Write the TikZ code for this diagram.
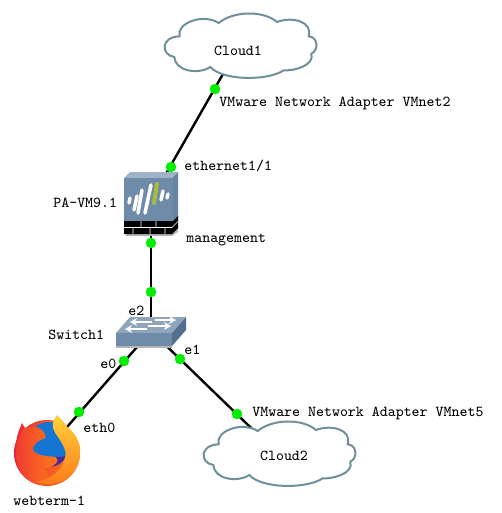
\documentclass[tikz,border=0pt]{standalone}
\usepackage{fontspec}
\usetikzlibrary{positioning, calc, arrows.meta}
\definecolor{myPort}{HTML}{00EE00}
\definecolor{myEdge}{HTML}{6F8F99}
\definecolor{myFront}{HTML}{6F8BAA}
\definecolor{myTop}{HTML}{9FB3C6}
\definecolor{mySide}{HTML}{52708E}
\definecolor{myShadow}{HTML}{B4B4B4}
\definecolor{myLeaf}{HTML}{A9BC3C}
\definecolor{foxBlue}{HTML}{1476D2}
\definecolor{foxPurple}{HTML}{4A2A9A}
\definecolor{foxRed}{HTML}{E8203C}
\definecolor{foxOrange}{HTML}{FF7A1A}
\definecolor{foxYellow}{HTML}{FFD23A}

\begin{document}
\begin{tikzpicture}[
  x=0.02cm, y=-0.02cm,
  link/.style={draw=black, line width=0.048cm},
  port/.style={circle, fill=myPort, minimum size=0.21cm, inner sep=0pt},
  lbl/.style={font=\ttfamily\fontsize{8.64}{10}\selectfont, inner sep=0pt, anchor=west, yshift=-0.03cm},
  swarrow/.style={white, line width=0.05cm, -{Stealth[length=0.14cm, width=0.16cm]}},
  cloudshape/.pic={
    \draw[draw=myEdge, fill=white, line width=0.04cm]
      (55.7,10) .. controls (70,-2) and (100,-3) .. (114,9)
      .. controls (130,3) and (150,9) .. (145.7,23.3)
      .. controls (155,24) and (156,37) .. (148.3,40.7)
      .. controls (152,52) and (132,58) .. (120.7,57.3)
      .. controls (105,68) and (60,68) .. (47.3,54)
      .. controls (35,62) and (12,58) .. (11.3,44)
      .. controls (-2,42) and (-3,24) .. (16.7,23.3)
      .. controls (13,10) and (40,0) .. (55.7,10) -- cycle;
  },
]
  \useasboundingbox (0,0) rectangle (502,513);

  % Device centres
  \coordinate (cloudOne) at (239,46);
  \coordinate (cloudTwo) at (278.5,454.5);
  \coordinate (paVm) at (151,200);
  \coordinate (switchOne) at (151,331);
  \coordinate (webTerm) at (46,451);

  % Links
  \draw[link] (cloudOne) -- (paVm);
  \draw[link] (paVm) -- (switchOne);
  \draw[link] (switchOne) -- (webTerm);
  \draw[link] (switchOne) -- (cloudTwo);

  % Clouds
  \pic at (163,13) {cloudshape};
  \pic at (202,421) {cloudshape};

  % Firewall
  \fill[myShadow] (126,228) -- (178,228) -- (178,232) -- (172,236) -- (126,236) -- cycle;
  \fill[myTop] (124,178) -- (130,172) -- (178,172) -- (172,178) -- cycle;
  \fill[mySide!70!myTop] (172,178) -- (178,172) -- (178,222) -- (172,228) -- cycle;
  \fill[myFront] (124,178) rectangle (173,221);
  \fill[black] (124,221) -- (173,221) -- (178,216) -- (178,228) -- (172,234) -- (124,234) -- cycle;
  \draw[white, line width=0.012cm] (124,227.5) -- (172,227.5) -- (178,221.5)
    (141,221) -- (141,227.5) (156,221) -- (156,227.5)
    (133,227.5) -- (133,234) (150,227.5) -- (150,234) (165,227.5) -- (165,234);
  \foreach \xa/\ya/\xb/\yb in {130/198/129/203, 137/196/134/210, 142/190/138/213, 151/185/145/213, 163/191/161/200, 168/194/167/198}
    \draw[white, line width=0.07cm, line cap=round] (\xa,\ya) -- (\xb,\yb);
  \draw[myLeaf, line width=0.08cm, line cap=round] (157,184) -- (154,203);

  % Switch
  \fill[myShadow] (116,340) rectangle (172,348);
  \fill[myTop!80!mySide] (130,317) -- (186,317) -- (172,333) -- (116,333) -- cycle;
  \fill[myFront] (116,333) rectangle (172,346);
  \fill[mySide] (172,333) -- (186,317) -- (186,330) -- (172,346) -- cycle;
  \draw[swarrow] (152,322) -- (130,322);
  \draw[swarrow] (155,320) -- (176,320);
  \draw[swarrow] (148,326) -- (171,326);
  \draw[swarrow] (147,329) -- (125,329);

  % Browser
  \shade[left color=foxRed, right color=foxOrange, middle color=foxOrange!60!foxRed]
    (47,453) circle (33);
  \fill[foxRed!85!foxOrange] (16,446) .. controls (16,436) and (20,428) .. (22,423)
    .. controls (24,427) and (26,430) .. (30,432) -- (36,440) -- cycle;
  \fill[foxBlue] (49,444) circle (22);
  \fill[foxPurple] (36,458) .. controls (42,470) and (60,470) .. (66,456)
    .. controls (58,458) and (45,456) .. (36,458) -- cycle;
  \shade[left color=foxRed!70!foxOrange, right color=foxOrange]
    (24,428) .. controls (30,426) and (38,426) .. (42,430)
    .. controls (46,434) and (46,438) .. (45,438)
    .. controls (38,440) and (32,446) .. (33,450)
    .. controls (36,456) and (48,456) .. (55,457)
    .. controls (58,459) and (58,461) .. (57,462)
    .. controls (52,468) and (48,468) .. (43,468)
    .. controls (50,474) and (50,480) .. (44,485)
    .. controls (28,484) and (18,472) .. (16,458)
    .. controls (15,446) and (20,434) .. (24,428) -- cycle;
  \shade[top color=foxYellow, bottom color=foxOrange]
    (57,415) .. controls (62,420) and (66,424) .. (68,428)
    .. controls (76,434) and (81,444) .. (80,452)
    .. controls (80,462) and (77,468) .. (75,470)
    .. controls (70,478) and (64,481) .. (57,483)
    .. controls (50,485) and (43,484) .. (37,482)
    .. controls (44,480) and (50,478) .. (53,475)
    .. controls (60,470) and (63,466) .. (63,463)
    .. controls (66,456) and (66,453) .. (65,450)
    .. controls (63,444) and (60,440) .. (58,437)
    .. controls (54,432) and (52,427) .. (53,423)
    .. controls (54,420) and (55,417) .. (57,415) -- cycle;

  % Ports
  \node[port] (portCloudOne) at (215,89) {};
  \node[port] (portEth) at (171,167) {};
  \node[port] (portMgmt) at (151,243) {};
  \node[port] (portSwTwo) at (151,292) {};
  \node[port] (portSwZero) at (124,361) {};
  \node[port] (portSwOne) at (180,359) {};
  \node[port] (portFox) at (79,412) {};
  \node[port] (portCloudTwo) at (237,414) {};

  % Labels
  \node[lbl, anchor=center] (lblCloudOne) at (238,49) {Cloud1};
  \node[lbl, anchor=center] (lblCloudTwo) at (284,454) {Cloud2};
  \node[lbl] (lblVmnetTwo) at (219,102) {VMware Network Adapter VMnet2};
  \node[lbl] (lblVmnetFive) at (252,412) {VMware Network Adapter VMnet5};
  \node[lbl] (lblEth) at (184,164) {ethernet1/1};
  \node[lbl] (lblPa) at (53,201) {PA-VM9.1};
  \node[lbl] (lblMgmt) at (186,239) {management};
  \node[lbl] (lblEtwo) at (128,309) {e2};
  \node[lbl] (lblSwitch) at (48,333) {Switch1};
  \node[lbl] (lblEzero) at (100,362) {e0};
  \node[lbl] (lblEone) at (184,348) {e1};
  \node[lbl] (lblEthZero) at (83,426) {eth0};
  \node[lbl] (lblWeb) at (13,499) {webterm-1};
\end{tikzpicture}
\end{document}
